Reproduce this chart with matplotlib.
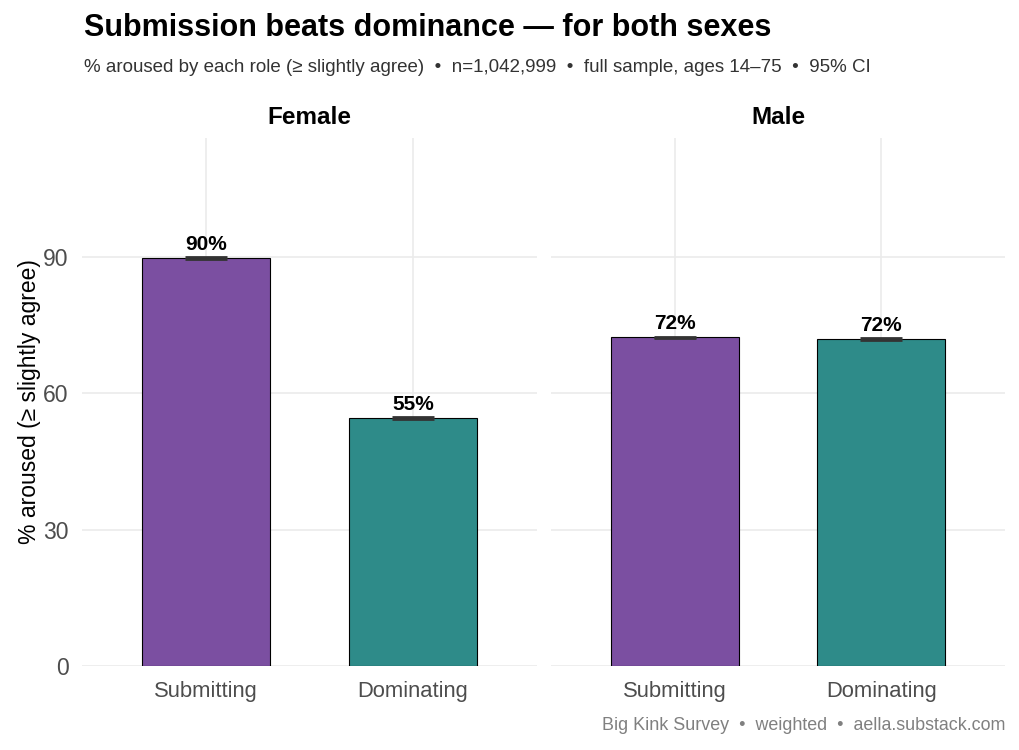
import numpy as np
import matplotlib.pyplot as plt

plt.rcParams['font.family'] = ['Liberation Sans', 'DejaVu Sans']

sexes = ['Female', 'Male']
roles = ['Submitting', 'Dominating']
pct = {'Female': [89.8, 54.6], 'Male': [72.3, 72.0]}
ci_half = {'Female': [0.15, 0.2], 'Male': [0.2, 0.2]}
bar_colors = ['#7B4FA1', '#2E8B89']

W, H = 1020, 750
fig = plt.figure(figsize=(W / 100, H / 100), dpi=100)

panels = [(82, 537), (551, 1005)]
top, bottom = 138, 666
ymax = 116.2

axes = []
for (x0, x1), sex in zip(panels, sexes):
    ax = fig.add_axes([x0 / W, (H - bottom) / H, (x1 - x0) / W, (bottom - top) / H])
    axes.append(ax)
    x = np.arange(1, len(roles) + 1)
    vals = np.array(pct[sex])
    ax.bar(x, vals, width=0.62, color=bar_colors, edgecolor='black', linewidth=0.8, zorder=2)
    ax.errorbar(x, vals, yerr=ci_half[sex], fmt='none', ecolor='#333333',
                elinewidth=1.2, capsize=14.8, capthick=2.0, zorder=3)
    for xi, v, e in zip(x, vals, ci_half[sex]):
        ax.text(xi, v + e + 0.7, f'{v:.0f}%', ha='center', va='bottom',
                fontsize=15, fontweight='bold', color='black', zorder=4)
    ax.set_xlim(0.4, 2.6)
    ax.set_ylim(0, ymax)
    ax.set_xticks(x)
    ax.set_xticklabels(roles, fontsize=15.8, color='#4D4D4D')
    ax.set_yticks([0, 30, 60, 90])
    ax.grid(True, color='#EBEBEB', linewidth=1.2, zorder=0)
    ax.set_axisbelow(True)
    for s in ax.spines.values():
        s.set_visible(False)
    ax.tick_params(length=0)
    ax.tick_params(axis='x', pad=11)
    ax.set_title(sex, fontsize=17.5, fontweight='bold', pad=10)

axes[0].tick_params(axis='y', labelsize=16.5, labelcolor='#4D4D4D', pad=9.5)
axes[1].tick_params(axis='y', labelleft=False)
axes[0].set_ylabel('% aroused (≥ slightly agree)', fontsize=16.5, labelpad=1.5)

fig.text(84 / W, 1 - 28 / H, 'Submission beats dominance — for both sexes',
         fontsize=22, fontweight='bold', va='center', ha='left')
fig.text(84 / W, 1 - 68 / H,
         '% aroused by each role (≥ slightly agree)  •  n=1,042,999  •  full sample, ages 14–75  •  95% CI',
         fontsize=13.5, color='#333333', va='center', ha='left')
fig.text(1005 / W, 1 - 726 / H, 'Big Kink Survey  •  weighted  •  aella.substack.com',
         fontsize=12.9, color='#808080', va='center', ha='right')

fig.savefig('out.png', dpi=100, facecolor='white')
